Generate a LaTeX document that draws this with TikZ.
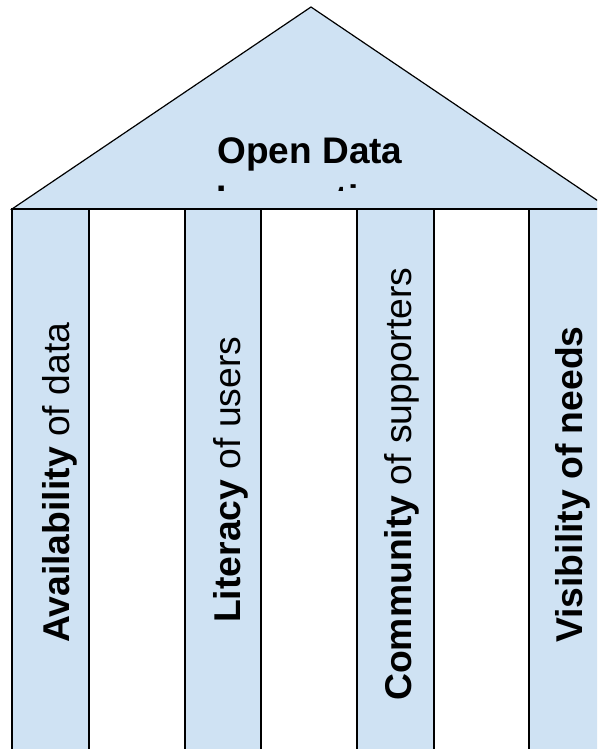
\documentclass[tikz,border=0pt]{standalone}
\usepackage{fontspec}
\setmainfont{Liberation Sans}
\usetikzlibrary{calc}
\definecolor{roofblue}{RGB}{207,226,243}

\begin{document}
\begin{tikzpicture}[x=1pt,y=-1pt,
    pillartext/.style={rotate=90,anchor=base west,inner sep=0pt,
      font=\fontsize{37.3}{44}\selectfont},
    rooftext/.style={anchor=base,inner sep=0pt,
      font=\fontsize{37}{44}\selectfont\bfseries}]
    \useasboundingbox (0,0) rectangle (597,749);
    \clip (0,0) rectangle (597,749);
    % roof
    \draw[fill=roofblue,line width=1.2pt] (12,209) -- (311,7) -- (610,209) -- cycle;
    \node[rooftext] (N title) at (310,163) {Open Data};
    \begin{scope}
      \clip (0,0) rectangle (597,190);
      \node[rooftext] (N title 2) at (310,211) {Innovation};
    \end{scope}
    % pillars
    \foreach \xa/\xb/\c in {12/89/roofblue,89/185/white,185/261/roofblue,
        261/357/white,357/434/roofblue,434/529/white,529/606/roofblue}
      \draw[fill=\c,line width=1.6pt] (\xa,209) rectangle (\xb,760);
    \node[pillartext] (N avail) at (69,643) {\textbf{Availability} of data};
    \node[pillartext] (N literacy) at (240,623) {\textbf{Literacy} of users};
    \node[pillartext] (N community) at (411,701) {\textbf{Community} of supporters};
    \node[pillartext] (N visibility) at (582,643) {\textbf{Visibility of needs}};
\end{tikzpicture}
\end{document}
